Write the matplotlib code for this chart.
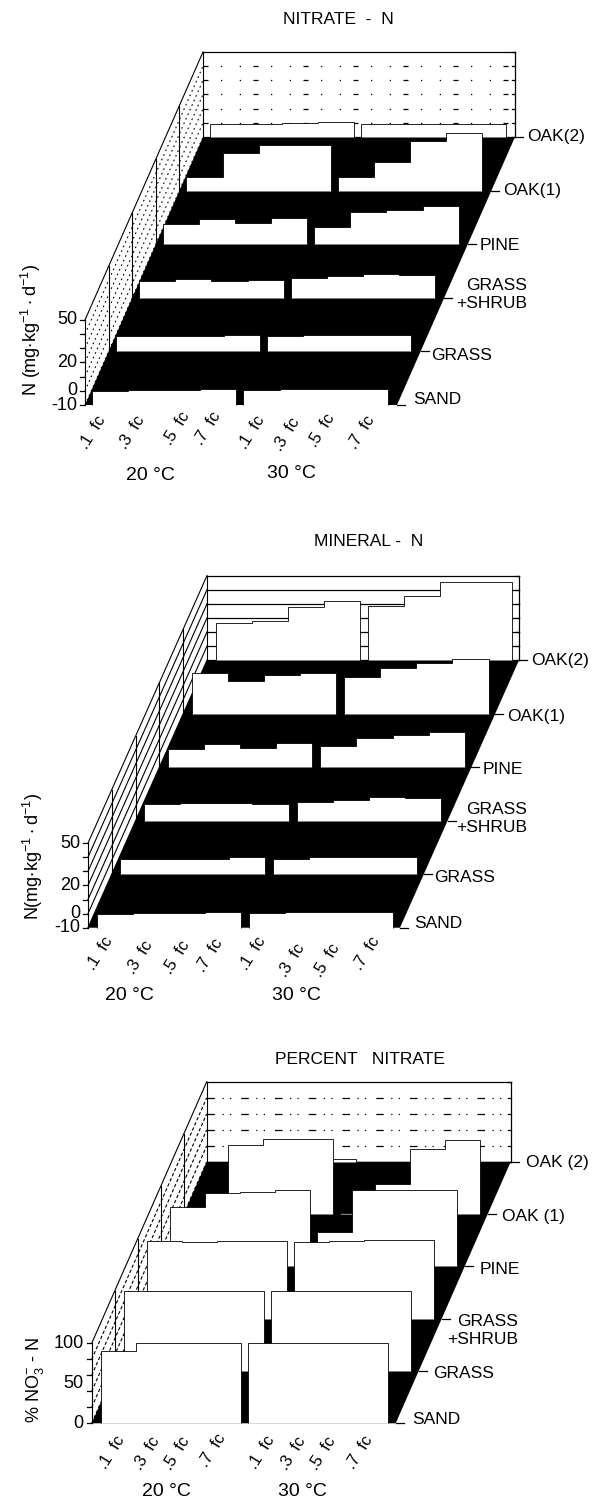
import matplotlib
matplotlib.use("Agg")
import matplotlib.pyplot as plt
from matplotlib.transforms import Affine2D
import numpy as np

plt.rcParams['font.family'] = ['Liberation Sans', 'DejaVu Sans']
plt.rcParams['mathtext.fontset'] = 'custom'
plt.rcParams['mathtext.rm'] = 'Liberation Sans'
plt.rcParams['mathtext.default'] = 'regular'

ROWS = ["SAND", "GRASS", "GRASS\n+SHRUB", "PINE", "OAK(1)", "OAK(2)"]
MOISTURE = [".1  fc", ".3  fc", ".5  fc", ".7  fc"]

# values per row (front to back), four moisture levels
nitrate_20 = [[0.0, 0.5, 0.5, 1.0], [0.6, 0.6, 0.6, 1.7], [2.2, 3.4, 2.2, 2.7],
              [4.1, 8.1, 5.3, 8.8], [-0.3, 16.3, 22.0, 22.0], [-1.0, -1.0, -0.3, 0.6]]
nitrate_30 = [[0.5, 1.0, 1.0, 1.0], [0.6, 1.8, 1.8, 1.8], [3.9, 5.3, 7.0, 6.2],
              [2.2, 12.4, 14.2, 16.8], [-0.3, 10.2, 24.8, 30.7], [-1.0, -1.0, -1.0, -1.0]]
mineral_20 = [[-0.3, 0.1, 0.1, 0.9], [0.6, 0.6, 0.6, 2.3], [1.6, 2.8, 2.3, 2.1],
              [3.2, 6.1, 3.7, 7.2], [18.6, 13.4, 17.7, 18.6], [16.7, 17.9, 27.4, 32.1]]
mineral_30 = [[0.1, 0.9, 0.9, 0.9], [0.6, 2.3, 2.3, 2.3], [3.0, 4.4, 6.5, 6.3],
              [4.9, 10.4, 12.7, 15.3], [15.7, 22.4, 25.7, 28.8], [28.5, 35.6, 45.8, 45.8]]
percent_20 = [[90, 100, 100, 100], [100, 100, 100, 100], [97, 96, 97, 97],
              [74, 92, 93, 95], [8, 87, 94, 94], [0, 0, 0, 3]]
percent_30 = [[100, 100, 100, 100], [100, 100, 100, 100], [96, 97, 98, 98],
              [43, 96, 96, 96], [2, 38, 82, 93], [0, 0, 0, 0]]

PANELS = [
    dict(title="NITRATE  -  N", tx=338, ty=20, v20=nitrate_20, v30=nitrate_30,
         x0=85, y0=405, dx=23.6, dy=53.6, cw=36.1, gap=7, inset=7, fw=312, zs=1.417,
         zmin=-10, zmax=50, zstep=10, ticks=[(50, "50"), (20, "20"), (0, "0"), (-10, "-10")],
         ylabel=r"N (mg$\cdot$kg$^{-1}\cdot$d$^{-1}$)", ylx=31, yly=330,
         ls=(0, (4, 10, 1, 14, 1, 10)), wl=(0, (1.5, 3)),
         rowlab=[(413, 400, "SAND"), (431, 355, "GRASS"), (527, 295, "GRASS\n+SHRUB"),
                 (480, 246, "PINE"), (503, 191, "OAK(1)"), (527, 136, "OAK(2)")],
         fc=[(93, 432), (132, 432), (177, 428), (208, 428), (252, 432), (287, 434), (322, 430), (362, 432)],
         temps=[(150, 475), (291, 474)]),
    dict(title="MINERAL -  N", tx=369, ty=542, v20=mineral_20, v30=mineral_30,
         x0=88, y0=927.7, dx=23.8, dy=53.5, cw=36.1, gap=8, inset=8.5, fw=312, zs=1.41,
         zmin=-10, zmax=50, zstep=10, ticks=[(50, "50"), (20, "20"), (0, "0"), (-10, "-10")],
         ylabel=r"N(mg$\cdot$kg$^{-1}\cdot$d$^{-1}$)", ylx=33, yly=856,
         ls='-', wl='-',
         rowlab=[(414, 923, "SAND"), (434, 878, "GRASS"), (527, 819, "GRASS\n+SHRUB"),
                 (483, 770, "PINE"), (507, 716, "OAK(1)"), (531, 660, "OAK(2)")],
         fc=[(100, 953), (140, 957), (177, 957), (210, 955), (253, 953), (292, 960), (327, 960), (367, 953)],
         temps=[(129, 996), (296, 996)]),
    dict(title="PERCENT   NITRATE", tx=360, ty=1059, v20=percent_20, v30=percent_30,
         x0=91.7, y0=1423.3, dx=23, dy=52.3, cw=35, gap=7.3, inset=9.3, fw=304, zs=0.8,
         zmin=0, zmax=100, zstep=20, ticks=[(100, "100"), (50, "50"), (0, "0")],
         ylabel=r"% NO$_3^{-}$ - N", ylx=35, yly=1380,
         ls=(0, (6, 6, 1, 5, 1, 8)), wl=(0, (3, 2)),
         rowlab=[(412, 1419, "SAND"), (433, 1374, "GRASS"), (518, 1330, "GRASS\n+SHRUB"),
                 (480, 1270, "PINE"), (502, 1216, "OAK (1)"), (526, 1162, "OAK (2)")],
         fc=[(112, 1452), (147, 1453), (177, 1453), (213, 1450), (262, 1452), (293, 1453), (323, 1453), (360, 1452)],
         temps=[(166, 1492), (302, 1492)]),
]

FS = 12.5
fig = plt.figure(figsize=(6.05, 15.01), dpi=100)
ax = fig.add_axes([0, 0, 1, 1])
ax.set_xlim(0, 605)
ax.set_ylim(1501, 0)
ax.axis("off")


def project(p, col_px, row, z):
    return (p["x0"] + col_px + row * p["dx"],
            p["y0"] - row * p["dy"] - (z - p["zmin"]) * p["zs"])


def row_transform(p, row):
    tf = Affine2D().scale(p["cw"], -p["zs"])
    tf = tf.translate(p["x0"] + p["inset"] + row * p["dx"],
                      p["y0"] - row * p["dy"] + p["zmin"] * p["zs"])
    return tf + ax.transData


for p in PANELS:
    nrows = len(ROWS)
    last = nrows - 1
    fw = p["fw"]
    lw = 0.9
    zs = np.arange(p["zmin"], p["zmax"] + 1, p["zstep"])

    # floor
    floor = [project(p, 0, 0, p["zmin"]), project(p, fw, 0, p["zmin"]),
             project(p, fw, last, p["zmin"]), project(p, 0, last, p["zmin"])]
    ax.fill(*zip(*floor), color="black", lw=0, zorder=1)

    # back wall
    for z in zs:
        a, b = project(p, 0, last, z), project(p, fw, last, z)
        style = '-' if z in (p["zmin"], p["zmax"]) else p["ls"]
        ax.plot([a[0], b[0]], [a[1], b[1]], color="black", lw=lw, ls=style, zorder=2)
        # small tick on the right edge of the wall
        ax.plot([b[0] - 3, b[0]], [b[1], b[1]], color="black", lw=lw, zorder=2)
        # left wall
        c = project(p, 0, 0, z)
        style = '-' if z == p["zmax"] else p["wl"]
        ax.plot([c[0], a[0]], [c[1], a[1]], color="black", lw=0.8, ls=style, zorder=2)
        ax.plot([c[0] - 5, c[0]], [c[1], c[1]], color="black", lw=lw, zorder=2)
    for r in [0, 1, 2, 3, 4, 5]:
        a, b = project(p, 0, r, p["zmin"]), project(p, 0, r, p["zmax"])
        ax.plot([a[0], b[0]], [a[1], b[1]], color="black", lw=0.8, zorder=2)
    a, b = project(p, fw, last, p["zmin"]), project(p, fw, last, p["zmax"])
    ax.plot([a[0], b[0]], [a[1], b[1]], color="black", lw=lw, zorder=2)

    # bars: back rows first
    gap = p["gap"] / p["cw"]
    for r in range(last, -1, -1):
        tf = row_transform(p, r)
        ax.stairs(p["v20"][r], np.arange(5), baseline=p["zmin"], fill=True,
                  facecolor="white", edgecolor="black", lw=0.6,
                  transform=tf, zorder=10 + (last - r))
        ax.stairs(p["v30"][r], np.arange(5) + 4 + gap, baseline=p["zmin"], fill=True,
                  facecolor="white", edgecolor="black", lw=0.6,
                  transform=tf, zorder=10 + (last - r))
        # row tick
        t = project(p, fw, r, p["zmin"])
        ax.plot([t[0], t[0] + 8], [t[1], t[1]], color="black", lw=lw, zorder=2)

    # text
    ax.text(p["tx"], p["ty"], p["title"], ha="center", va="center", fontsize=FS)
    for (x, y, s) in p["rowlab"]:
        multi = "\n" in s
        ax.text(x, y, s, ha="right" if multi else "left", va="center",
                fontsize=FS, linespacing=1.25, multialignment="right")
    for z, s in p["ticks"]:
        t = project(p, 0, 0, z)
        ax.text(t[0] - 8, t[1], s, ha="right", va="center", fontsize=13)
    labs = MOISTURE + MOISTURE
    for (x, y), s in zip(p["fc"], labs):
        ax.text(x, y, s, rotation=58, ha="center", va="center", fontsize=12,
                rotation_mode="anchor")
    for (x, y), s in zip(p["temps"], ["20 °C", "30 °C"]):
        ax.text(x, y, s, ha="center", va="center", fontsize=14)
    ax.text(p["ylx"], p["yly"], p["ylabel"], rotation=90, ha="center", va="center", fontsize=13)

fig.savefig("out.png", dpi=100, facecolor="white")
